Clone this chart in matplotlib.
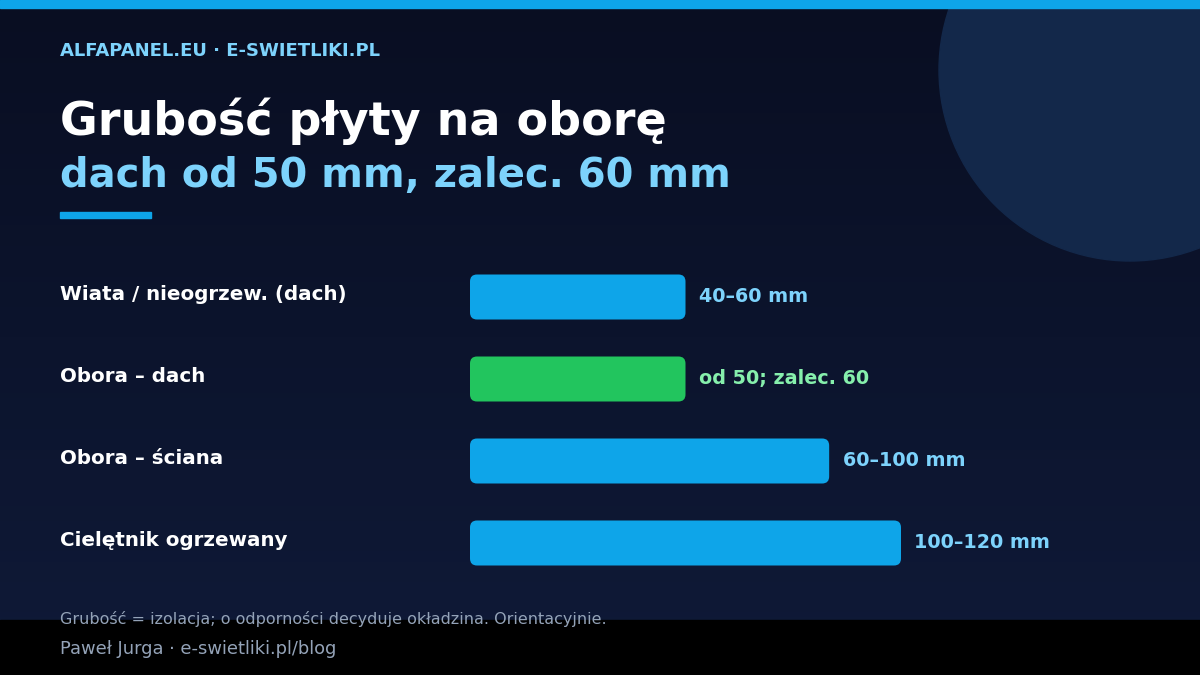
import numpy as np
import matplotlib
matplotlib.use("Agg")
from matplotlib import pyplot as plt
from matplotlib.patches import FancyBboxPatch, Circle, Rectangle

# Dane
kategorie = ["Wiata / nieogrzew. (dach)", "Obora – dach", "Obora – ściana", "Cielętnik ogrzewany"]
grubosc_max = [60, 60, 100, 120]  # gorna granica [mm]
etykiety = ["40–60 mm", "od 50; zalec. 60", "60–100 mm", "100–120 mm"]
kolory = ["#0ea5e9", "#22c55e", "#0ea5e9", "#0ea5e9"]
kolory_etykiet = ["#7dd3fc", "#86efac", "#7dd3fc", "#7dd3fc"]

W, H = 1200, 675
fig = plt.figure(figsize=(12, 6.75), dpi=100)

# Tlo (pikselowe wspolrzedne)
bg = fig.add_axes([0, 0, 1, 1])
bg.set_xlim(0, W)
bg.set_ylim(H, 0)
bg.axis("off")
grad = np.linspace(0, 1, 256).reshape(-1, 1)
c0 = np.array([9, 14, 34]) / 255
c1 = np.array([15, 26, 56]) / 255
img = c0 + (c1 - c0) * grad[..., None]
img = np.repeat(img, 2, axis=1)
bg.imshow(img, extent=[0, W, H, 0], aspect="auto", zorder=0)
bg.add_patch(Circle((1130, 70), 191, color="#13284a", zorder=1))
bg.add_patch(Rectangle((0, 0), W, 8, color="#0ea5e9", zorder=2))
bg.add_patch(Rectangle((0, 620), W, 55, color="#000000", zorder=2))
bg.add_patch(Rectangle((60, 212), 91, 6, color="#0ea5e9", zorder=2))
bg.set_xlim(0, W)
bg.set_ylim(H, 0)

# Naglowki
bg.text(60, 51, "ALFAPANEL.EU · E-SWIETLIKI.PL", color="#7dd3fc", fontsize=12.95,
        fontweight="bold", va="center", zorder=3)
bg.text(60, 121, "Grubość płyty na oborę", color="white", fontsize=33.1,
        fontweight="bold", va="center", zorder=3)
bg.text(60, 176, "dach od 50 mm, zalec. 60 mm", color="#7dd3fc", fontsize=28.8,
        fontweight="bold", va="center", zorder=3)

# Stopka
bg.text(60, 619, "Grubość = izolacja; o odporności decyduje okładzina. Orientacyjnie.",
        color="#94a3b8", fontsize=11.5, va="center", zorder=3)
bg.text(60, 649, "Paweł Jurga · e-swietliki.pl/blog", color="#94a3b8", fontsize=12.9,
        va="center", zorder=3)

# Wykres slupkowy
ax = fig.add_axes([470 / W, 1 - 584 / H, 431 / W, 328 / H])
ax.set_xlim(0, 120)
ax.set_ylim(3.5, -0.5)
ax.axis("off")
ax.patch.set_alpha(0)

x_px = 120 / 431
y_px = 1 / 82
h = 45 / 82
for i, (v, kol) in enumerate(zip(grubosc_max, kolory)):
    ax.add_patch(FancyBboxPatch((0, i - h / 2), v, h,
                                boxstyle="round,pad=0,rounding_size=%f" % (7 * x_px),
                                mutation_aspect=y_px / x_px,
                                facecolor=kol, edgecolor="none", clip_on=False))
    ax.annotate(etykiety[i], (v, i), xytext=(13.5 * 0.72, 0), textcoords="offset points",
                color=kolory_etykiet[i], fontsize=13.8, fontweight="bold",
                va="center", ha="left", annotation_clip=False)
    bg.text(60, 256 + 41 + 82 * i - 3, kategorie[i], color="white", fontsize=14.35,
            fontweight="bold", va="center", zorder=3)

fig.savefig("out.png", dpi=100)
